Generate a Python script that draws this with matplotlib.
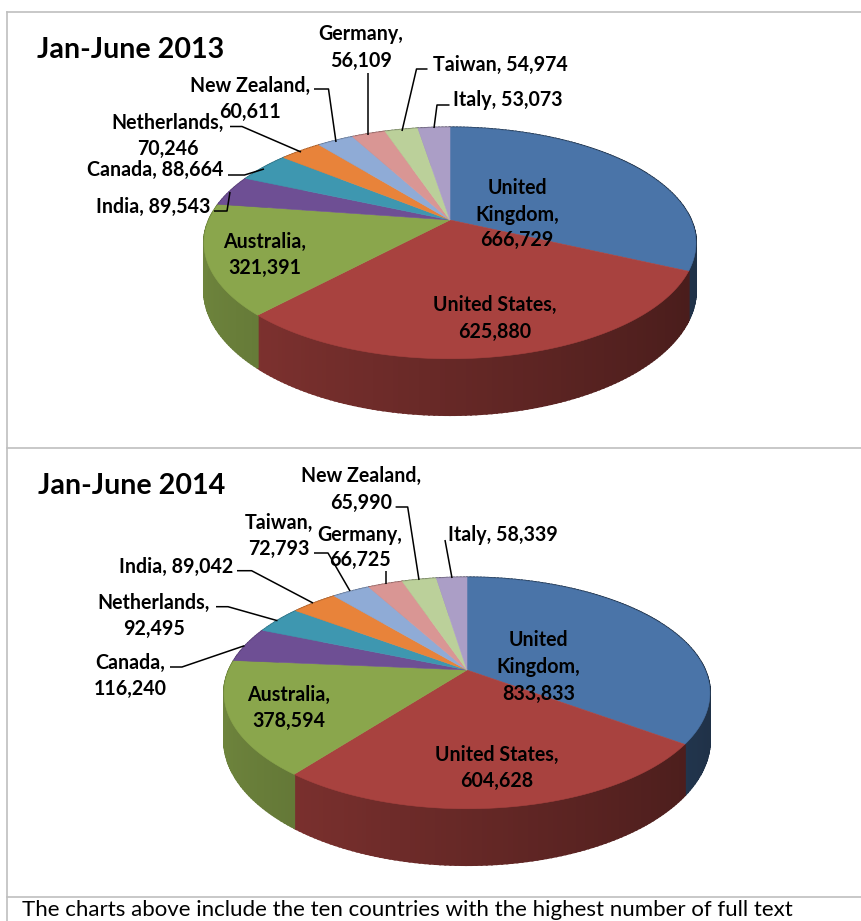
import matplotlib
matplotlib.use("Agg")
import matplotlib.pyplot as plt
import numpy as np

countries = ["United Kingdom", "United States", "Australia", "India", "Canada",
             "Netherlands", "New Zealand", "Germany", "Taiwan", "Italy"]
countries_14 = ["United Kingdom", "United States", "Australia", "Canada", "Netherlands",
                "India", "Taiwan", "Germany", "New Zealand", "Italy"]
values_13 = [666729, 625880, 321391, 89543, 88664, 70246, 60611, 56109, 54974, 53073]
values_14 = [833833, 604628, 378594, 116240, 92495, 89042, 72793, 66725, 65990, 58339]

slice_colors = ["#4A74A8", "#A8423F", "#8AA64C", "#6E4F94", "#3E97B0",
                "#E8833A", "#8FABD6", "#D99694", "#BBD09A", "#AB9EC6"]

# (name, x, [y of each line])
labels_13 = [("United Kingdom", 517, [186, 213, 238]), ("United States", 495, [303, 330]),
             ("Australia", 265, [240, 266.5]), ("India", 153, [205]), ("Canada", 155.5, [168]),
             ("Netherlands", 168, [121, 147]), ("New Zealand", 250, [84, 110]),
             ("Germany", 361, [33, 59]), ("Taiwan", 500, [63]), ("Italy", 508, [98])]
labels_14 = [("United Kingdom", 538.5, [638, 665.5, 692]), ("United States", 497, [753, 779]),
             ("Australia", 289, [693, 719]), ("Canada", 130, [661, 687]),
             ("Netherlands", 154, [601, 627]), ("India", 176, [565]),
             ("Taiwan", 279, [521, 547]), ("Germany", 360, [533, 558]),
             ("New Zealand", 361, [474, 501]), ("Italy", 503, [533])]

leaders_13 = [[(314, 89), (328.5, 89), (336, 142)], [(368, 73.5), (368, 135)],
              [(427.5, 69), (416.5, 69), (402, 131)], [(449.5, 105), (437, 105), (434, 128)],
              [(230, 126.5), (242, 126.5), (301, 152)], [(228, 175), (244.5, 175), (264, 169)],
              [(214, 211), (227, 211), (230, 192)]]
leaders_14 = [[(395.6, 507), (407.7, 507), (419, 580)], [(385.7, 570.7), (385.7, 584)],
              [(314, 553), (328, 553), (350, 591)], [(445, 540), (452, 578)],
              [(237, 570.7), (251.6, 570.7), (313, 603)], [(216, 606.7), (228, 606.7), (277.5, 620.7)],
              [(170, 667), (182, 667), (244.5, 645.7)]]


def project(deg, cx, cy, a, b, drop=0, k=0.2):
    # circle seen in perspective, angle clockwise from 12 o'clock
    t = np.radians(deg)
    u, v = np.sin(t), -np.cos(t)
    w = 1 - k * v
    return cx + a * u / w, cy + (b * v + drop) / w


def shade(color, f):
    return tuple(c * f for c in matplotlib.colors.to_rgb(color))


def draw_pie(ax, values, cx, cy, a, b, h):
    edges = np.concatenate([[0], np.cumsum(values)]) / np.sum(values) * 360
    # side wall first, the top covers what is hidden
    for i in range(len(values)):
        steps = np.arange(edges[i], edges[i + 1], 1.0).tolist() + [edges[i + 1]]
        for d0, d1 in zip(steps[:-1], steps[1:]):
            x0, y0 = project(d0, cx, cy, a, b)
            x1, y1 = project(d1, cx, cy, a, b)
            x2, y2 = project(d1, cx, cy, a, b, h)
            x3, y3 = project(d0, cx, cy, a, b, h)
            f = np.interp(np.sin(np.radians(d0)), [-1, 1], [0.8, 0.42])
            c = shade(slice_colors[i], f)
            ax.fill([x0, x1, x2, x3], [y0, y1, y2, y3], color=c, lw=1.5, zorder=2)
    for i in range(len(values)):
        deg = np.linspace(edges[i], edges[i + 1], 90)
        x, y = project(deg, cx, cy, a, b)
        ax.fill(np.r_[cx, x], np.r_[cy, y], color=slice_colors[i], lw=0.4, zorder=3)


def draw_labels(ax, names, values, labels, leaders):
    lookup = dict(zip(names, values))
    for name, x, ys in labels:
        text = f"{name}, {lookup[name]:,}"
        if len(ys) == 3:
            lines = name.split(" ")
            lines = [lines[0], lines[1] + ",", f"{lookup[name]:,}"]
        elif len(ys) == 2:
            lines = [name + ",", f"{lookup[name]:,}"]
        else:
            lines = [text]
        for line, y in zip(lines, ys):
            ax.text(x, y + 1.5, line, ha="center", va="center", fontsize=14.1,
                    fontweight="bold", family="Lato", color="black", zorder=5)
    for pts in leaders:
        xs, ys = zip(*pts)
        ax.plot(xs, ys, color="black", lw=1.1, zorder=4, solid_capstyle="butt")


fig = plt.figure(figsize=(8.62, 9.21), dpi=100)
ax = fig.add_axes([0, 0, 1, 1])
ax.set_xlim(0, 862)
ax.set_ylim(921, 0)
ax.axis("off")

# table rules
for y in [12, 447.5, 896.5]:
    ax.plot([7, 862], [y, y], color="#BFBFBF", lw=1.2, zorder=1)
ax.plot([7, 7], [12, 921], color="#BFBFBF", lw=1.2, zorder=1)

draw_pie(ax, values_13, 450, 220, 241, 111, 45)
draw_pie(ax, values_14, 467, 670, 238, 111, 45)
draw_labels(ax, countries, values_13, labels_13, leaders_13)
draw_labels(ax, countries_14, values_14, labels_14, leaders_14)

ax.text(131, 50, "Jan-June 2013", ha="center", va="center", fontsize=20.6,
        fontweight="bold", family="Lato")
ax.text(132, 486, "Jan-June 2014", ha="center", va="center", fontsize=20.6,
        fontweight="bold", family="Lato")
ax.text(22, 910, "The charts above include the ten countries with the highest number of full text",
        ha="left", va="center", fontsize=16, family="Lato")

fig.savefig("out.png", dpi=100)
